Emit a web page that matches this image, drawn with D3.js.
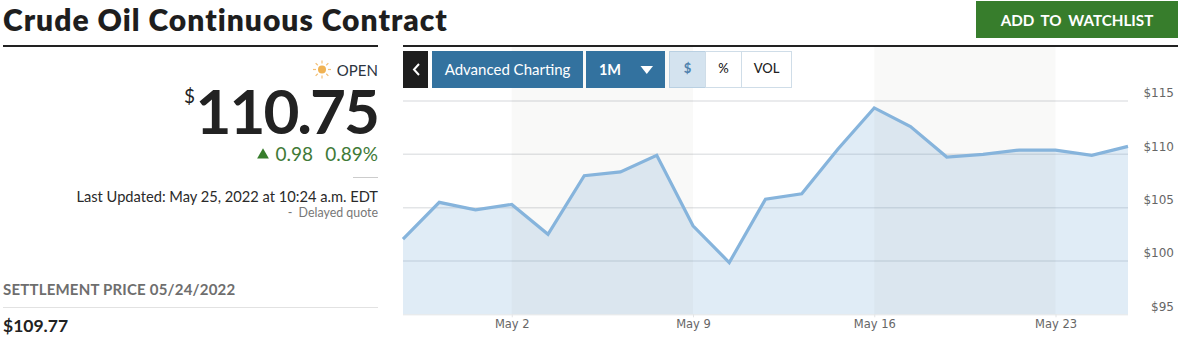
<!DOCTYPE html>
<html>
<head>
<meta charset="utf-8">
<script src="https://d3js.org/d3.v7.min.js"></script>
<style>
  html, body { margin: 0; padding: 0; background: #fff; }
  svg { display: block; font-family: Lato, sans-serif; }
  .axis text { font-family: "DejaVu Sans", sans-serif; font-size: 11.5px; fill: #666; }
  .y-axis text { font-size: 12px; }
  .axis path, .axis line { stroke: #e2e4e6; }
</style>
</head>
<body>
<div id="chart"></div>
<script>
// chart data
var dates = ["Apr 27", "Apr 28", "Apr 29",
             "May 2", "May 3", "May 4", "May 5", "May 6",
             "May 9", "May 10", "May 11", "May 12", "May 13",
             "May 16", "May 17", "May 18", "May 19", "May 20",
             "May 23", "May 24", "May 25"];
var prices = [102.05, 105.5, 104.8, 105.3, 102.5, 108.0, 108.35, 109.9,
              103.3, 99.85, 105.8, 106.3, 110.5, 114.35, 112.6, 109.75,
              110.0, 110.4, 110.4, 109.9, 110.75];
var x_ticks = ["May 2", "May 9", "May 16", "May 23"];
var y_ticks = [95, 100, 105, 110, 115];
var shaded_weeks = [["May 2", "May 9"], ["May 16", "May 23"]];

var width = 1196, height = 362;

var svg = d3.select("#chart").append("svg")
    .attr("width", width)
    .attr("height", height);

// scales
var x = d3.scalePoint().domain(dates).range([403, 1128]);
var y = d3.scaleLinear().domain([95, 115]).range([314.3, 101]);

// header
svg.append("text").attr("x", 3).attr("y", 31)
    .attr("font-size", 30).attr("font-weight", 800).attr("fill", "#1e1e1e")
    .attr("letter-spacing", 1)
    .text("Crude Oil Continuous Contract");
svg.append("rect").attr("x", 3).attr("y", 45).attr("width", 375).attr("height", 2).attr("fill", "#222");
svg.append("rect").attr("x", 403).attr("y", 45).attr("width", 775).attr("height", 2).attr("fill", "#222");

svg.append("rect").attr("x", 976).attr("y", 1).attr("width", 202).attr("height", 37).attr("fill", "#377d2c");
svg.append("text").attr("x", 1077).attr("y", 26).attr("text-anchor", "middle")
    .attr("font-size", 15.2).attr("font-weight", 700).attr("fill", "#fff").attr("word-spacing", 3)
    .text("ADD TO WATCHLIST");

// left column: quote
var sun = svg.append("g").attr("transform", "translate(322,69.5)");
sun.append("circle").attr("r", 4).attr("fill", "#f0b253");
d3.range(8).forEach(function(i) {
    var a = i * Math.PI / 4;
    sun.append("line")
        .attr("x1", Math.cos(a) * 6).attr("y1", Math.sin(a) * 6)
        .attr("x2", Math.cos(a) * 9).attr("y2", Math.sin(a) * 9)
        .attr("stroke", "#f3c078").attr("stroke-width", 1.2);
});
svg.append("text").attr("x", 378).attr("y", 76).attr("text-anchor", "end")
    .attr("font-size", 15).attr("fill", "#2c3440").text("OPEN");

svg.append("text").attr("x", 195).attr("y", 103).attr("text-anchor", "end")
    .attr("font-size", 19).attr("fill", "#222").text("$");
svg.append("text").attr("x", 378).attr("y", 134).attr("text-anchor", "end")
    .attr("font-size", 62).attr("font-weight", 700).attr("fill", "#222")
    .attr("letter-spacing", -2).text("110.75");

svg.append("path").attr("d", d3.symbol().type(d3.symbolTriangle).size(60))
    .attr("transform", "translate(263,155)").attr("fill", "#377d2c");
svg.append("text").attr("x", 313).attr("y", 161).attr("text-anchor", "end")
    .attr("font-size", 19).attr("fill", "#3f7a37").text("0.98");
svg.append("text").attr("x", 378).attr("y", 161).attr("text-anchor", "end")
    .attr("font-size", 19).attr("fill", "#3f7a37").text("0.89%");
svg.append("rect").attr("x", 353).attr("y", 177).attr("width", 25).attr("height", 1).attr("fill", "#ccc");

svg.append("text").attr("x", 378).attr("y", 202).attr("text-anchor", "end")
    .attr("font-size", 14.66).attr("fill", "#2a2a2a").text("Last Updated: May 25, 2022 at 10:24 a.m. EDT");
svg.append("text").attr("x", 378).attr("y", 217).attr("text-anchor", "end")
    .attr("font-size", 12.4).attr("fill", "#777").attr("xml:space", "preserve").text("-  Delayed quote");

svg.append("text").attr("x", 3).attr("y", 295)
    .attr("font-size", 15).attr("font-weight", 700).attr("fill", "#6e6e6e").attr("letter-spacing", 0.2)
    .text("SETTLEMENT PRICE 05/24/2022");
svg.append("rect").attr("x", 3).attr("y", 307).attr("width", 375).attr("height", 1).attr("fill", "#e2e2e2");
svg.append("text").attr("x", 3).attr("y", 332)
    .attr("font-size", 17.5).attr("font-weight", 700).attr("fill", "#222").text("$109.77");

// grid lines
svg.selectAll(".grid").data(y_ticks.slice(1)).enter().append("line")
    .attr("class", "grid")
    .attr("x1", 403).attr("x2", 1128)
    .attr("y1", function(d) { return y(d); })
    .attr("y2", function(d) { return y(d); })
    .attr("stroke", "#e3e5e7").attr("stroke-width", 1.5);

// area first, shaded weeks over it, line on top
var area = d3.area()
    .x(function(d, i) { return x(dates[i]); })
    .y0(y(95))
    .y1(function(d) { return y(d); });
var line = d3.line()
    .x(function(d, i) { return x(dates[i]); })
    .y(function(d) { return y(d); });

svg.append("path").datum(prices).attr("d", area)
    .attr("fill", "#6ea6d6").attr("fill-opacity", 0.21);

svg.selectAll(".week").data(shaded_weeks).enter().append("rect")
    .attr("class", "week")
    .attr("x", function(d) { return x(d[0]); })
    .attr("y", 47)
    .attr("width", function(d) { return x(d[1]) - x(d[0]); })
    .attr("height", y(95) - 47)
    .attr("fill", "#4a4a44").attr("fill-opacity", 0.035);

svg.append("path").datum(prices).attr("d", line)
    .attr("fill", "none").attr("stroke", "#86b4dc").attr("stroke-width", 3.2);

// axes
var x_axis = d3.axisBottom(x).tickValues(x_ticks).tickSize(3).tickPadding(3);
svg.append("g").attr("class", "axis")
    .attr("transform", "translate(0," + y(95) + ")")
    .call(x_axis)
    .select(".domain").attr("d", "M403,0.5H1128");

var y_axis = d3.axisRight(y).tickValues(y_ticks).tickSize(0)
    .tickFormat(function(d) { return "$" + d; });
var y_group = svg.append("g").attr("class", "axis y-axis").attr("transform", "translate(1174,0)").call(y_axis);
y_group.select(".domain").remove();
y_group.selectAll("text").attr("x", 0).attr("dy", "-0.35em").attr("text-anchor", "end");

// toolbar on top of the chart
svg.append("rect").attr("x", 403).attr("y", 51).attr("width", 25).attr("height", 37).attr("fill", "#1e1e1e");
svg.append("path").attr("d", "M419,64 L414,69.5 L419,75").attr("fill", "none")
    .attr("stroke", "#fff").attr("stroke-width", 2);
svg.append("rect").attr("x", 432).attr("y", 51).attr("width", 151).attr("height", 37).attr("fill", "#33729f");
svg.append("text").attr("x", 507.5).attr("y", 75).attr("text-anchor", "middle")
    .attr("font-size", 15).attr("fill", "#fff").text("Advanced Charting");
svg.append("rect").attr("x", 586).attr("y", 51).attr("width", 79).attr("height", 37).attr("fill", "#33729f");
svg.append("text").attr("x", 610).attr("y", 75).attr("text-anchor", "middle")
    .attr("font-size", 14.5).attr("font-weight", 700).attr("fill", "#fff").text("1M");
svg.append("path").attr("d", "M640.500,66 L653,66 L646.750,74 Z").attr("fill", "#fff");

// $ % VOL toggle
var toggles = [
    {label: "$", x: 669, w: 36, on: true},
    {label: "%", x: 705, w: 36, on: false},
    {label: "VOL", x: 741, w: 50, on: false}
];
toggles.forEach(function(t) {
    svg.append("rect").attr("x", t.x + 0.5).attr("y", 51.5).attr("width", t.w).attr("height", 36)
        .attr("fill", t.on ? "#d4e3ef" : "#fff").attr("stroke", t.on ? "#b9d0e2" : "#cfdde8");
    svg.append("text").attr("x", t.x + t.w / 2 + 0.5).attr("y", 73).attr("text-anchor", "middle")
        .attr("font-size", 13).attr("font-weight", t.on ? 700 : 500)
        .attr("fill", t.on ? "#4f82ad" : "#222").text(t.label);
});
</script>
</body>
</html>
